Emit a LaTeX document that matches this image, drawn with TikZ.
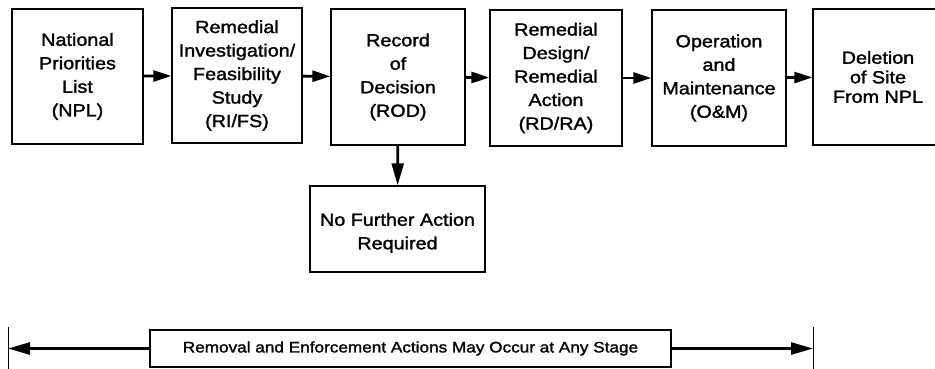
\documentclass[tikz,border=0pt]{standalone}
\usepackage{fontspec}
\setmainfont{Liberation Sans}
\newfontfamily\boxfont[FakeStretch=1.13,FakeBold=1.6]{Liberation Sans}
\usetikzlibrary{arrows.meta}
\tikzset{
  stagebox/.style={draw=black, line width=1.4pt, inner sep=0pt, align=center,
    font=\boxfont\fontsize{17.5}{23.5}\selectfont},
  boxtext/.style={inner sep=0pt, align=center,
    font=\boxfont\fontsize{17.5}{23.5}\selectfont},
  flow/.style={line width=2.8pt, -{Triangle[length=18pt,width=11pt]}},
  flowlong/.style={line width=2.6pt, -{Triangle[length=22pt,width=12pt]}},
  tick/.style={line width=1pt}
}
\begin{document}
\begin{tikzpicture}[x=1pt,y=-1pt]
\useasboundingbox (0,0) rectangle (935,368);
\node[stagebox, minimum width=131pt, minimum height=135pt] (b1) at (77.5,76.5)
  {National\\Priorities\\List\\(NPL)};
\node[stagebox, minimum width=130pt, minimum height=135pt] (b2) at (237,75.5)
  {Remedial\\Investigation/\\Feasibility\\Study\\(RI/FS)};
\node[stagebox, minimum width=134pt, minimum height=136pt] (b3) at (398,77)
  {Record\\of\\Decision\\(ROD)};
\node[stagebox, minimum width=132pt, minimum height=136pt] (b4) at (556,78)
  {Remedial\\Design/\\Remedial\\Action\\(RD/RA)};
\node[stagebox, minimum width=134pt, minimum height=136pt] (b5) at (719,78)
  {Operation\\and\\Maintenance\\(O\&M)};
\node[stagebox, minimum width=130pt, minimum height=136pt,
  font=\boxfont\fontsize{17.5}{19.5}\selectfont] (b6) at (878,77)
  {Deletion\\of Site\\From NPL};
\node[stagebox, minimum width=175pt, minimum height=86pt] (nfa) at (397.5,229) {};
\node[boxtext] (nfatext) at ([yshift=-4pt]nfa.center)
  {No Further Action\\Required};
\node[stagebox, minimum width=521pt, minimum height=37pt,
  font=\boxfont\fontsize{15.2}{17}\selectfont] (bar) at (410.5,348.5)
  {Removal and Enforcement Actions May Occur at Any Stage};
\draw[flow] (b1) -- (b2);
\draw[flow] (b2) -- (b3);
\draw[flow] (b3) -- (b4);
\draw[flow] (b4) -- (b5);
\draw[flow] (b5) -- (b6);
\draw[flowlong] (b3) -- (nfa);
\coordinate (lt) at (8,327);
\coordinate (lb) at (8,369);
\coordinate (rt) at (813,327);
\coordinate (rb) at (813,369);
\draw[tick] (lt) -- (lb);
\draw[tick] (rt) -- (rb);
\draw[flowlong] (bar.west) -- (lt |- bar.west);
\draw[flowlong] (bar.east) -- (rt |- bar.east);
\end{tikzpicture}
\end{document}
